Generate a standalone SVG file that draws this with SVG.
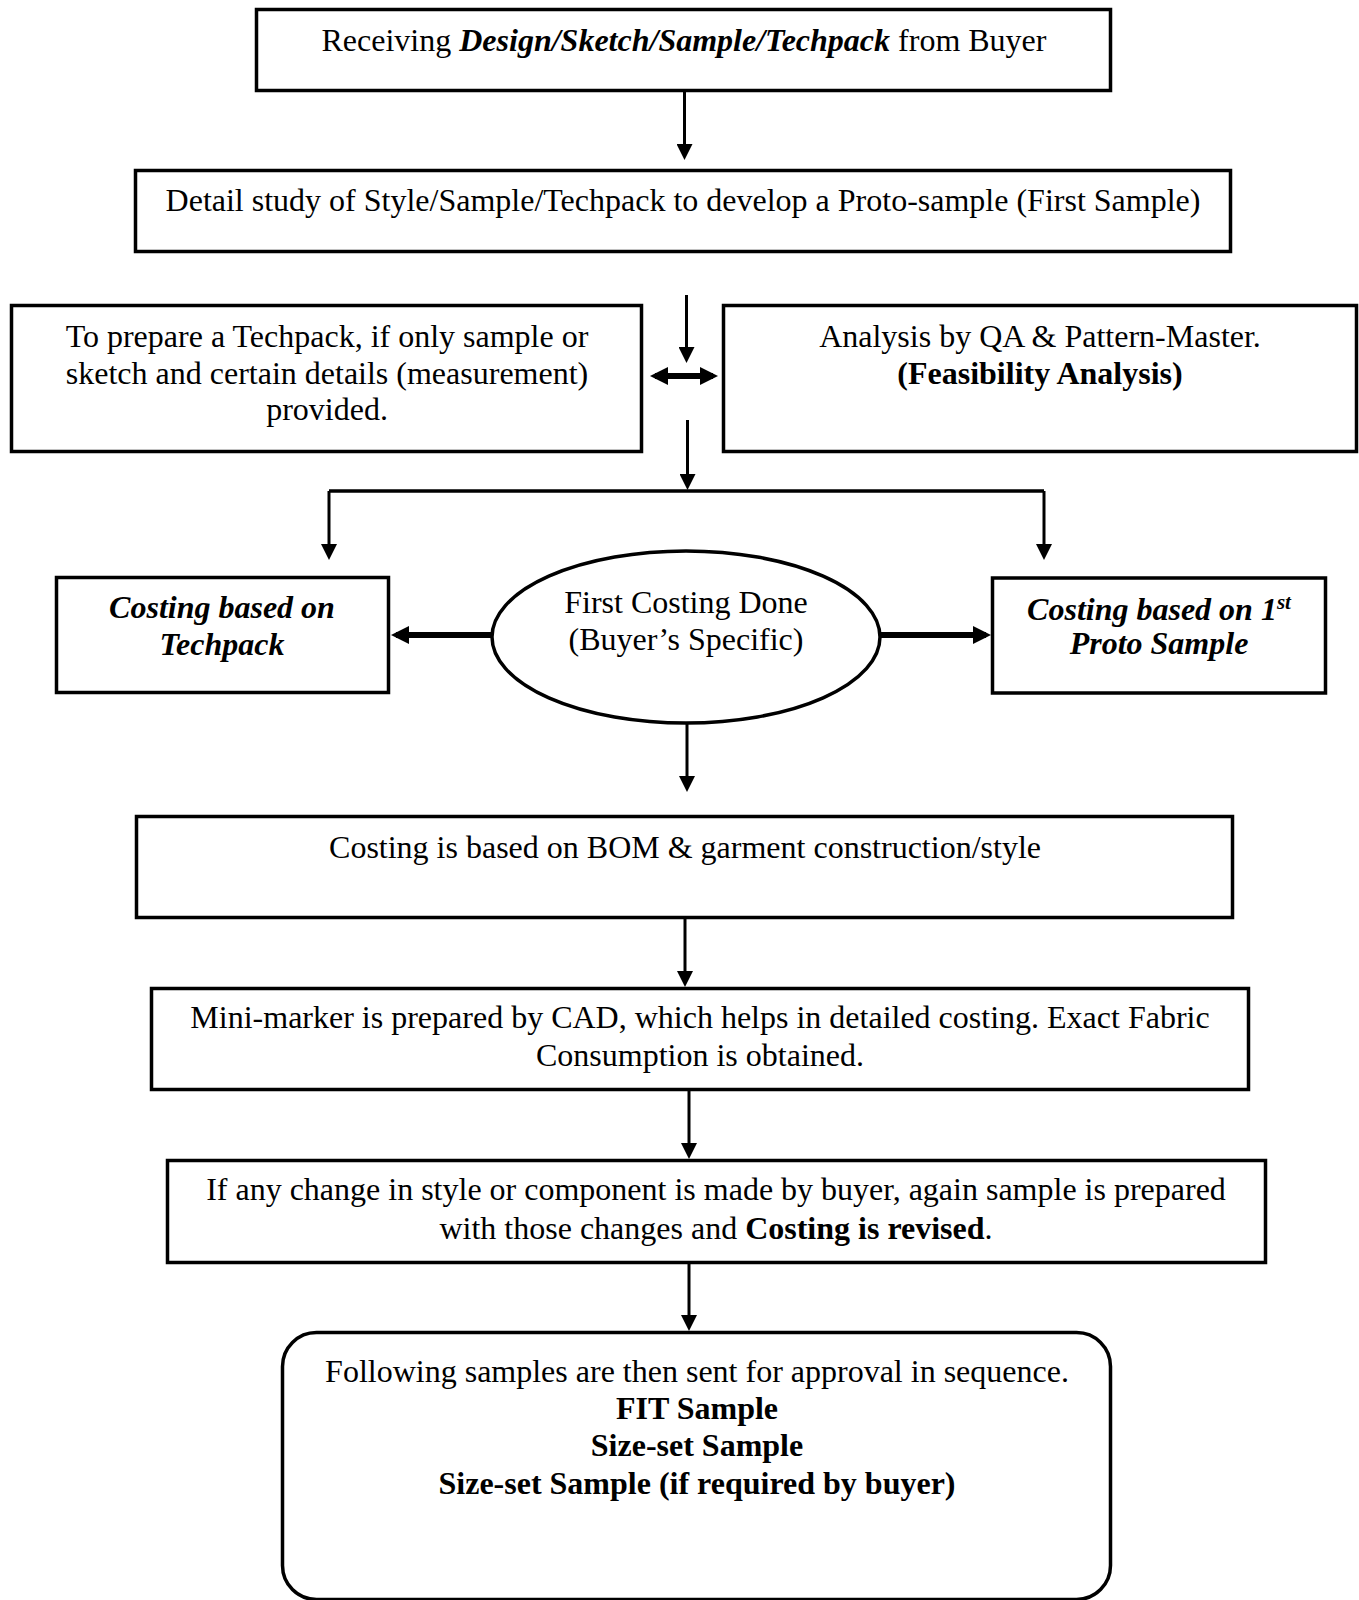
<svg xmlns="http://www.w3.org/2000/svg" width="1359" height="1600" viewBox="0 0 1359 1600">
<style>
  .box { fill: #fff; stroke: #000; stroke-width: 3.5; }
  .t { font-family: "Liberation Serif", "Times New Roman", serif; font-size: 32px; fill: #000; text-anchor: middle; }
  .b { font-weight: bold; }
  .bi { font-weight: bold; font-style: italic; }
  .ln { stroke: #000; stroke-width: 3; fill: none; }
  .thick { stroke: #000; stroke-width: 6; fill: none; }
</style>
<defs>
  <marker id="ah" markerUnits="userSpaceOnUse" viewBox="0 0 16 16" refX="12" refY="8" markerWidth="16" markerHeight="16" orient="auto">
    <path d="M0,0 L16,8 L0,16 Z" fill="#000"/>
  </marker>
  <marker id="ahT" markerUnits="userSpaceOnUse" viewBox="0 0 18 18" refX="13" refY="9" markerWidth="18" markerHeight="18" orient="auto-start-reverse">
    <path d="M0,0 L18,9 L0,18 Z" fill="#000"/>
  </marker>
</defs>
<rect width="1359" height="1600" fill="#fff"/>

<g id="connectors">
  <line class="ln" x1="684.5" y1="92" x2="684.5" y2="156" marker-end="url(#ah)"/>
  <line class="ln" x1="686.5" y1="295" x2="686.5" y2="359" marker-end="url(#ah)"/>
  <line class="thick" x1="655" y1="376" x2="713" y2="376" marker-start="url(#ahT)" marker-end="url(#ahT)"/>
  <line class="ln" x1="687.5" y1="420" x2="687.5" y2="486" marker-end="url(#ah)"/>
  <line class="ln" x1="329" y1="491" x2="1044" y2="491" style="stroke-width:3.5"/>
  <line class="ln" x1="329" y1="491" x2="329" y2="556" marker-end="url(#ah)"/>
  <line class="ln" x1="1044" y1="491" x2="1044" y2="556" marker-end="url(#ah)"/>
  <line class="thick" x1="491" y1="635" x2="396" y2="635" marker-end="url(#ahT)"/>
  <line class="thick" x1="880" y1="635" x2="986" y2="635" marker-end="url(#ahT)"/>
  <line class="ln" x1="687" y1="724" x2="687" y2="788" marker-end="url(#ah)"/>
  <line class="ln" x1="685" y1="919" x2="685" y2="983" marker-end="url(#ah)"/>
  <line class="ln" x1="689" y1="1091" x2="689" y2="1155" marker-end="url(#ah)"/>
  <line class="ln" x1="689" y1="1264" x2="689" y2="1327" marker-end="url(#ah)"/>
</g>

<g id="n-receive">
  <rect class="box" x="256.5" y="9.5" width="854" height="81"/>
  <text class="t" x="684" y="51">Receiving <tspan class="bi">Design/Sketch/Sample/Techpack</tspan> from Buyer</text>
</g>

<g id="n-detail">
  <rect class="box" x="135.5" y="170.5" width="1095" height="81"/>
  <text class="t" x="683" y="211">Detail study of Style/Sample/Techpack to develop a Proto-sample (First Sample)</text>
</g>

<g id="n-prepare">
  <rect class="box" x="11.5" y="305.5" width="630" height="146"/>
  <text class="t" x="327" y="347">To prepare a Techpack, if only sample or</text>
  <text class="t" x="327" y="383.5">sketch and certain details (measurement)</text>
  <text class="t" x="327" y="420">provided.</text>
</g>

<g id="n-analysis">
  <rect class="box" x="723.5" y="305.5" width="633" height="146"/>
  <text class="t" x="1040" y="347">Analysis by QA &amp; Pattern-Master.</text>
  <text class="t b" x="1040" y="383.5">(Feasibility Analysis)</text>
</g>

<g id="n-cost-techpack">
  <rect class="box" x="56.5" y="577.5" width="332" height="115"/>
  <text class="t bi" x="222" y="618">Costing based on</text>
  <text class="t bi" x="222" y="655">Techpack</text>
</g>

<g id="n-first-costing">
  <ellipse cx="686" cy="637" rx="194" ry="86" fill="#fff" stroke="#000" stroke-width="3.5"/>
  <text class="t" x="686" y="613">First Costing Done</text>
  <text class="t" x="686" y="650">(Buyer’s Specific)</text>
</g>

<g id="n-cost-proto">
  <rect class="box" x="992.5" y="578" width="333" height="115"/>
  <text class="t bi" x="1159" y="620">Costing based on 1<tspan font-size="21" dy="-11">st</tspan></text>
  <text class="t bi" x="1159" y="654">Proto Sample</text>
</g>

<g id="n-bom">
  <rect class="box" x="136.5" y="816.5" width="1096" height="101"/>
  <text class="t" x="685" y="858">Costing is based on BOM &amp; garment construction/style</text>
</g>

<g id="n-minimarker">
  <rect class="box" x="151.5" y="988.5" width="1097" height="101"/>
  <text class="t" x="700" y="1028">Mini-marker is prepared by CAD, which helps in detailed costing. Exact Fabric</text>
  <text class="t" x="700" y="1066">Consumption is obtained.</text>
</g>

<g id="n-change">
  <rect class="box" x="167.5" y="1160.5" width="1098" height="102"/>
  <text class="t" x="716" y="1200">If any change in style or component is made by buyer, again sample is prepared</text>
  <text class="t" x="716" y="1239">with those changes and <tspan class="b">Costing is revised</tspan>.</text>
</g>

<g id="n-approval">
  <rect class="box" x="282.5" y="1332.5" width="828" height="267" rx="34" ry="34"/>
  <text class="t" x="697" y="1382">Following samples are then sent for approval in sequence.</text>
  <text class="t b" x="697" y="1419">FIT Sample</text>
  <text class="t b" x="697" y="1456">Size-set Sample</text>
  <text class="t b" x="697" y="1494">Size-set Sample (if required by buyer)</text>
</g>
</svg>
